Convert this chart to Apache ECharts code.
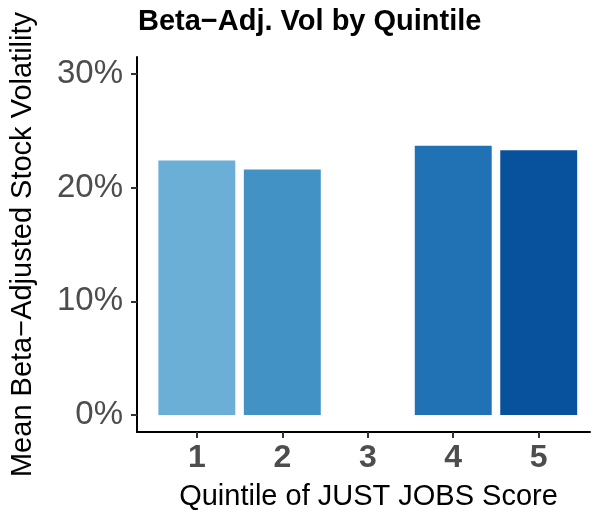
<!DOCTYPE html>
<html>
<head>
<meta charset="utf-8">
<script src="https://cdn.jsdelivr.net/npm/echarts@6/dist/echarts.min.js"></script>
<style>html,body{margin:0;padding:0;background:#fff}#c{width:592px;height:514px}</style>
</head>
<body>
<div id="c"></div>
<script>
const quintiles = [1, 2, 3, 4, 5];
const volatility = [22.4, 21.6, null, 23.7, 23.3];
const barColors = ['#6BAED6', '#4292C6', '#3182BD', '#2171B5', '#08519C'];
const yTicks = [0, 10, 20, 30];
const titleText = 'Beta\u2212Adj. Vol by Quintile';
const xTitle = 'Quintile of JUST JOBS Score';
const yTitle = 'Mean Beta\u2212Adjusted Stock Volatility';

const data = [];
quintiles.forEach((q, i) => {
  if (volatility[i] != null) {
    data.push({ value: [q, volatility[i]], itemStyle: { color: barColors[i] } });
  }
});

const FONT = 'Liberation Sans, Arial, Helvetica, sans-serif';
const chart = echarts.init(document.getElementById('c'), null, { renderer: 'canvas' });
chart.setOption({
  animation: false,
  backgroundColor: '#fff',
  title: {
    text: titleText,
    left: 138, top: 7, padding: 0,
    textStyle: { fontFamily: FONT, fontWeight: 'bold', fontSize: 29, color: '#000' }
  },
  grid: { left: 137, right: 2, top: 57, bottom: 82, containLabel: false, outerBoundsMode: 'none' },
  xAxis: {
    type: 'value', min: 0.3, max: 5.6,
    splitLine: { show: false },
    axisLine: { show: true, onZero: false, lineStyle: { color: '#000', width: 2 } },
    axisTick: { show: true, customValues: quintiles, length: 6, lineStyle: { color: '#333', width: 2 } },
    axisLabel: { customValues: quintiles, margin: 10, fontFamily: FONT, fontWeight: 'bold', fontSize: 32, color: '#4D4D4D' },
    name: xTitle, nameLocation: 'middle', nameGap: 50,
    nameTextStyle: { fontFamily: FONT, fontSize: 29, color: '#000', padding: [0, 0, 0, 10] }
  },
  yAxis: {
    type: 'value', min: -1.5, max: 31.5,
    splitLine: { show: false },
    axisLine: { show: true, onZero: false, lineStyle: { color: '#000', width: 2 } },
    axisTick: { show: true, customValues: yTicks, length: 6, lineStyle: { color: '#333', width: 2 } },
    axisLabel: { customValues: yTicks, margin: 14, formatter: v => v + '%', fontFamily: FONT, fontSize: 33, color: '#4D4D4D' },
    name: yTitle, nameLocation: 'middle', nameGap: 100, nameRotate: 90,
    nameTextStyle: { fontFamily: FONT, fontSize: 29, color: '#000' }
  },
  series: [{
    type: 'bar',
    data: data,
    barWidth: '90%'
  }]
});
</script>
</body>
</html>
